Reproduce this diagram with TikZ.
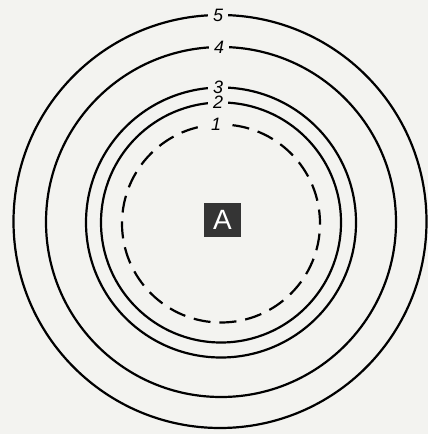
\documentclass[tikz,border=0pt]{standalone}
\usepackage{fontspec}
\setsansfont{Liberation Sans}
\usepackage{tikz}
\definecolor{paper}{RGB}{243,243,240}
\definecolor{boxgray}{RGB}{52,52,52}

\begin{document}
\begin{tikzpicture}[x=1bp, y=-1bp,
          ring/.style={circle, draw, line width=2.2bp, inner sep=0pt, outer sep=0pt,
                       minimum size=#1},
          ringlbl/.style={fill=paper, inner xsep=5bp, inner ysep=0pt,
                          font=\fontsize{18}{18}\selectfont\sffamily\itshape}
        ]
        \fill[paper] (0,0) rectangle (428,434);
        \useasboundingbox (0,0) rectangle (428,434);

        % rings, outer to inner
        \node[ring=413bp] (c5) at (220,221.5) {};
        \node[ring=350bp] (c4) at (221,222) {};
        \node[ring=270bp] (c3) at (221,222.5) {};
        \node[ring=240bp] (c2) at (221,222.5) {};
        \node[ring=198bp, dash pattern=on 17bp off 9bp, dash phase=3bp] (c1) at (221,223.5) {};

        % labels on top of each ring
        \node[ringlbl] (l5) at ([xshift=-2bp]c5.north) {5};
        \node[ringlbl] (l4) at ([xshift=-2bp]c4.north) {4};
        \node[ringlbl] (l3) at ([xshift=-3bp]c3.north) {3};
        \node[ringlbl] (l2) at ([xshift=-3bp]c2.north) {2};
        \node[ringlbl] (l1) at ([xshift=-5bp]c1.north) {1};

        % core
        \node[fill=boxgray, text=white, minimum width=37bp, minimum height=34bp,
              inner sep=0pt, font=\fontsize{28}{28}\selectfont\sffamily] (core) at (222.5,220) {A};
      \end{tikzpicture}
\end{document}
